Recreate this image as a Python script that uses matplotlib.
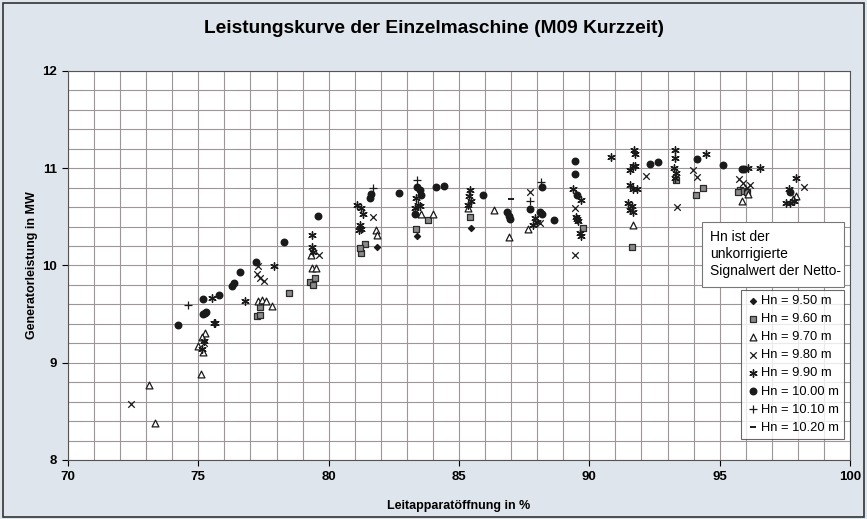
import matplotlib
matplotlib.use("Agg")
import matplotlib.pyplot as plt
from matplotlib.patches import Rectangle
from matplotlib.ticker import MultipleLocator

plt.rcParams['font.family'] = ['Liberation Sans', 'DejaVu Sans']

# Leitapparatöffnung (%) / Generatorleistung (MW), je Fallhöhe Hn
x_950 = [81.84, 83.40, 85.45]
y_950 = [10.19, 10.30, 10.39]

x_960 = [77.36, 77.24, 77.36, 78.48, 79.28, 79.48, 79.39, 81.39, 81.26, 81.20,
         83.37, 83.82, 85.42, 89.74, 91.62, 93.32, 94.11, 94.37, 95.78, 95.90,
         95.71, 96.03]
y_960 = [9.57, 9.48, 9.49, 9.72, 9.83, 9.87, 9.80, 10.22, 10.13, 10.18,
         10.38, 10.47, 10.50, 10.39, 10.19, 10.88, 10.73, 10.80, 10.78, 10.77,
         10.76, 10.76]

x_970 = [73.12, 73.34, 75.10, 75.25, 75.13, 74.99, 75.18, 77.30, 77.43, 77.60,
         77.81, 79.32, 79.35, 79.50, 81.81, 81.84, 83.53, 84.02, 85.36, 86.34,
         86.93, 87.66, 91.66, 95.84, 96.10, 97.92, 97.82]
y_970 = [8.77, 8.38, 8.88, 9.31, 9.26, 9.17, 9.11, 9.63, 9.65, 9.63,
         9.58, 10.11, 9.97, 9.97, 10.37, 10.31, 10.53, 10.53, 10.59, 10.57,
         10.29, 10.38, 10.42, 10.66, 10.74, 10.71, 10.68]

x_980 = [72.42, 75.20, 77.28, 77.26, 77.36, 77.52, 79.63, 81.71, 87.72, 88.10,
         89.45, 89.45, 92.17, 93.35, 93.96, 94.14, 95.75, 95.90, 96.16, 96.06,
         98.24]
y_980 = [8.58, 9.20, 9.99, 9.91, 9.87, 9.84, 10.11, 10.50, 10.76, 10.44,
         10.59, 10.11, 10.92, 10.60, 10.98, 10.91, 10.89, 10.85, 10.83, 10.80,
         10.81]

x_990 = [75.22, 75.15, 75.64, 75.51, 75.60, 76.80, 77.91, 79.37, 79.35, 79.41,
         81.07, 81.26, 81.30, 81.20, 81.23, 81.17, 83.37, 83.44, 83.31, 83.50,
         85.42, 85.39, 85.45, 85.36, 87.91, 87.98, 87.85, 89.36, 89.67, 89.49,
         89.58, 89.51, 89.64, 89.67, 90.85, 91.71, 91.75, 91.66, 91.56, 91.75,
         91.56, 91.68, 91.81, 91.49, 91.62, 91.56, 91.66, 93.29, 93.29, 93.25,
         93.32, 93.29, 94.46, 96.10, 96.54, 97.92, 97.67, 97.54, 97.69, 97.85]
y_990 = [9.22, 9.14, 9.41, 9.67, 9.41, 9.63, 9.99, 10.31, 10.19, 10.14,
         10.62, 10.59, 10.53, 10.42, 10.38, 10.36, 10.69, 10.62, 10.59, 10.61,
         10.78, 10.71, 10.66, 10.62, 10.49, 10.45, 10.42, 10.79, 10.67, 10.50,
         10.46, 10.48, 10.33, 10.30, 11.12, 11.19, 11.15, 11.02, 10.98, 11.02,
         10.83, 10.79, 10.79, 10.64, 10.61, 10.57, 10.55, 11.19, 11.11, 11.00,
         10.95, 10.90, 11.15, 11.00, 11.00, 10.90, 10.79, 10.64, 10.64, 10.66]

x_1000 = [74.23, 75.26, 75.19, 75.80, 75.19, 75.29, 76.28, 76.37, 76.60, 77.21,
          78.30, 79.60, 81.61, 81.58, 82.71, 83.40, 83.50, 83.53, 83.31, 84.12,
          84.42, 85.93, 86.83, 86.90, 86.95, 87.72, 88.17, 88.10, 88.17, 88.64,
          89.45, 89.45, 89.54, 92.32, 92.64, 94.14, 95.13, 95.84, 95.93, 97.69]
y_1000 = [9.39, 9.51, 9.66, 9.70, 9.50, 9.52, 9.79, 9.82, 9.93, 10.04,
          10.24, 10.51, 10.74, 10.69, 10.75, 10.81, 10.78, 10.73, 10.53, 10.81,
          10.82, 10.73, 10.55, 10.51, 10.48, 10.58, 10.81, 10.55, 10.53, 10.47,
          11.07, 10.94, 10.72, 11.04, 11.06, 11.09, 11.03, 10.99, 10.99, 10.76]

x_1010 = [74.62, 81.71, 83.40, 87.72, 88.14]
y_1010 = [9.59, 10.80, 10.88, 10.66, 10.86]

x_1020 = [86.99]
y_1020 = [10.68]

fig = plt.figure(figsize=(8.67, 5.19), dpi=100)
fig.patch.set_facecolor('#dfe5ec')
fig.patches.append(Rectangle((0.003, 0.004), 0.994, 0.99, transform=fig.transFigure,
                             fill=False, edgecolor='#333333', linewidth=1.2))
ax = fig.add_axes([0.0784, 0.1137, 0.902, 0.7495])
ax.set_facecolor('white')

ax.scatter(x_950, y_950, marker='D', s=9, c='#1a1a1a', label='Hn = 9.50 m', zorder=3)
ax.scatter(x_960, y_960, marker='s', s=22, facecolor='#8a8a8a', edgecolor='#2a2a2a',
           linewidths=0.9, label='Hn = 9.60 m', zorder=3)
ax.scatter(x_970, y_970, marker='^', s=24, facecolor='white', edgecolor='#1a1a1a',
           linewidths=0.9, label='Hn = 9.70 m', zorder=3)
ax.scatter(x_980, y_980, marker='x', s=22, c='#1a1a1a', linewidths=0.9,
           label='Hn = 9.80 m', zorder=3)
ax.scatter(x_990, y_990, marker=(6, 2, 0), s=28, c='#1a1a1a', linewidths=1.0,
           label='Hn = 9.90 m', zorder=3)
ax.scatter(x_1000, y_1000, marker='o', s=22, c='#1a1a1a', label='Hn = 10.00 m', zorder=3)
ax.scatter(x_1010, y_1010, marker='+', s=30, c='#1a1a1a', linewidths=0.9,
           label='Hn = 10.10 m', zorder=3)
ax.scatter(x_1020, y_1020, marker='_', s=20, c='#1a1a1a', linewidths=1.4,
           label='Hn = 10.20 m', zorder=3)

ax.set_xlim(70, 100)
ax.set_ylim(8, 12)
ax.xaxis.set_major_locator(MultipleLocator(5))
ax.xaxis.set_minor_locator(MultipleLocator(1))
ax.yaxis.set_major_locator(MultipleLocator(1))
ax.yaxis.set_minor_locator(MultipleLocator(0.2))
ax.grid(which='both', color='#9e9696', linewidth=0.8)
ax.set_axisbelow(True)
ax.tick_params(which='minor', length=0)
ax.tick_params(which='major', length=4, width=0.8, labelsize=9.5, pad=4)
for lbl in ax.get_xticklabels() + ax.get_yticklabels():
    lbl.set_fontweight('bold')
for sp in ax.spines.values():
    sp.set_color('#555555')
    sp.set_linewidth(0.8)

ax.set_xlabel('Leitapparatöffnung in %', fontsize=9, fontweight='bold', labelpad=12)
ax.set_ylabel('Generatorleistung in MW', fontsize=9, fontweight='bold', labelpad=3)
fig.text(0.5, 0.946, 'Leistungskurve der Einzelmaschine (M09 Kurzzeit)', fontsize=13.8,
         fontweight='bold', ha='center', va='center')

leg = ax.legend(loc='lower right', bbox_to_anchor=(0.992, 0.054), fontsize=9.3,
                frameon=True, fancybox=False, edgecolor='#444444', handletextpad=0.1,
                handlelength=1.0, labelspacing=0.47, borderpad=0.4, borderaxespad=0)
leg.get_frame().set_linewidth(0.8)
leg.set_zorder(6)

ax.add_patch(Rectangle((0.811, 0.445), 0.181, 0.167, transform=ax.transAxes,
                       facecolor='white', edgecolor='#777777', linewidth=0.8, zorder=5))
ax.text(0.821, 0.592, 'Hn ist der\nunkorrigierte\nSignalwert der Netto-', transform=ax.transAxes,
        fontsize=10, va='top', ha='left', linespacing=1.3, zorder=6)

fig.savefig('out.png', dpi=100, facecolor=fig.get_facecolor())
